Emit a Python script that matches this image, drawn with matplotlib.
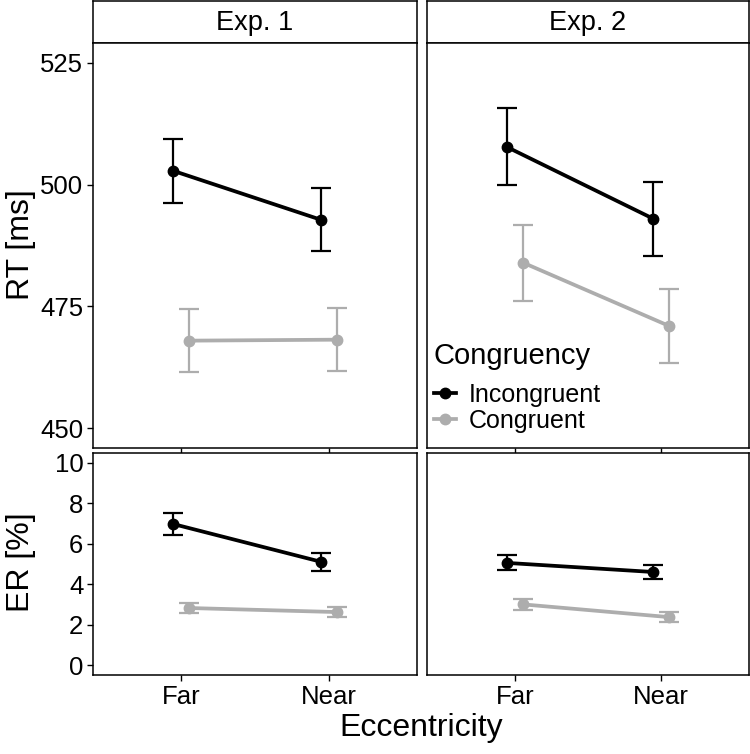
import matplotlib
matplotlib.use("Agg")
from matplotlib import pyplot as plt
from matplotlib.lines import Line2D
import numpy as np

plt.rcParams['font.family'] = ['Liberation Sans', 'DejaVu Sans']

# data
eccentricity = ['Far', 'Near']
experiments = ['Exp. 1', 'Exp. 2']
groups = ['Incongruent', 'Congruent']

rt_exp1_incong = [502.8, 492.8]
rt_exp1_incong_err = [6.6, 6.5]
rt_exp1_cong = [468.0, 468.2]
rt_exp1_cong_err = [6.4, 6.4]
rt_exp2_incong = [507.7, 493.0]
rt_exp2_incong_err = [7.9, 7.6]
rt_exp2_cong = [484.0, 471.0]
rt_exp2_cong_err = [7.8, 7.5]

er_exp1_incong = [6.98, 5.12]
er_exp1_incong_err = [0.54, 0.45]
er_exp1_cong = [2.83, 2.63]
er_exp1_cong_err = [0.23, 0.23]
er_exp2_incong = [5.06, 4.61]
er_exp2_incong_err = [0.37, 0.34]
er_exp2_cong = [3.01, 2.38]
er_exp2_cong_err = [0.28, 0.24]

COLORS = {'Incongruent': 'black', 'Congruent': '#adadad'}
DODGE = {'Incongruent': -0.055, 'Congruent': 0.055}

W, H = 750, 754


def px_axes(fig, x0, y0, x1, y1):
	"""add axes from pixel box (top-left origin)"""
	return fig.add_axes([x0 / W, (H - y1) / H, (x1 - x0) / W, (y1 - y0) / H])


def draw_panel(ax, series):
	x = np.arange(1, len(eccentricity) + 1)
	for name, means, errs in series:
		xs = x + DODGE[name]
		ax.errorbar(xs, means, yerr=errs, color=COLORS[name], lw=2.7,
			marker='o', markersize=7.5, capsize=7, capthick=1.6, elinewidth=1.6)
	ax.set_xlim(0.4, 2.6)
	ax.set_xticks(x)
	for sp in ax.spines.values():
		sp.set_linewidth(1.1)
	ax.tick_params(length=4, width=1.0, labelsize=18.5, colors='black', pad=3)


fig = plt.figure(figsize=(7.5, 7.54), dpi=100)

lefts = [(93, 417), (427, 749)]
rt_data = [
	[('Incongruent', rt_exp1_incong, rt_exp1_incong_err), ('Congruent', rt_exp1_cong, rt_exp1_cong_err)],
	[('Incongruent', rt_exp2_incong, rt_exp2_incong_err), ('Congruent', rt_exp2_cong, rt_exp2_cong_err)],
]
er_data = [
	[('Incongruent', er_exp1_incong, er_exp1_incong_err), ('Congruent', er_exp1_cong, er_exp1_cong_err)],
	[('Incongruent', er_exp2_incong, er_exp2_incong_err), ('Congruent', er_exp2_cong, er_exp2_cong_err)],
]

for i, (x0, x1) in enumerate(lefts):
	# strip
	strip = px_axes(fig, x0, 1, x1, 43)
	strip.set_xticks([]); strip.set_yticks([])
	for sp in strip.spines.values():
		sp.set_linewidth(1.1)
	strip.text(0.5, 0.47, experiments[i], ha='center', va='center', fontsize=19.5,
		transform=strip.transAxes)

	ax_rt = px_axes(fig, x0, 43, x1, 448)
	draw_panel(ax_rt, rt_data[i])
	ax_rt.set_ylim(446, 529)
	ax_rt.set_yticks([450, 475, 500, 525])
	ax_rt.set_xticklabels([])

	ax_er = px_axes(fig, x0, 453, x1, 675)
	draw_panel(ax_er, er_data[i])
	ax_er.set_ylim(-0.48, 10.49)
	ax_er.set_yticks([0, 2, 4, 6, 8, 10])
	ax_er.set_xticklabels(eccentricity)

	if i == 1:
		ax_rt.tick_params(axis='y', left=False, labelleft=False)
		ax_er.tick_params(axis='y', left=False, labelleft=False)
		handles = [Line2D([], [], color=COLORS[g], lw=2.7, marker='o', markersize=7.5) for g in groups]
		leg = ax_rt.legend(handles, groups, title='Congruency', loc='lower left',
			bbox_to_anchor=(-0.025, 0.0), frameon=False, fontsize=18, title_fontsize=21,
			handlelength=0.9, handletextpad=0.5, labelspacing=0.08, alignment='left',
			borderaxespad=0.2)
		leg._legend_box.sep = 9

fig.text(21 / W, 1 - 245 / H, 'RT [ms]', rotation=90, ha='center', va='center', fontsize=23)
fig.text(21 / W, 1 - 562 / H, 'ER [%]', rotation=90, ha='center', va='center', fontsize=23)
fig.text(421 / W, 1 - 728 / H, 'Eccentricity', ha='center', va='center', fontsize=23)

fig.savefig('out.png', dpi=100)
